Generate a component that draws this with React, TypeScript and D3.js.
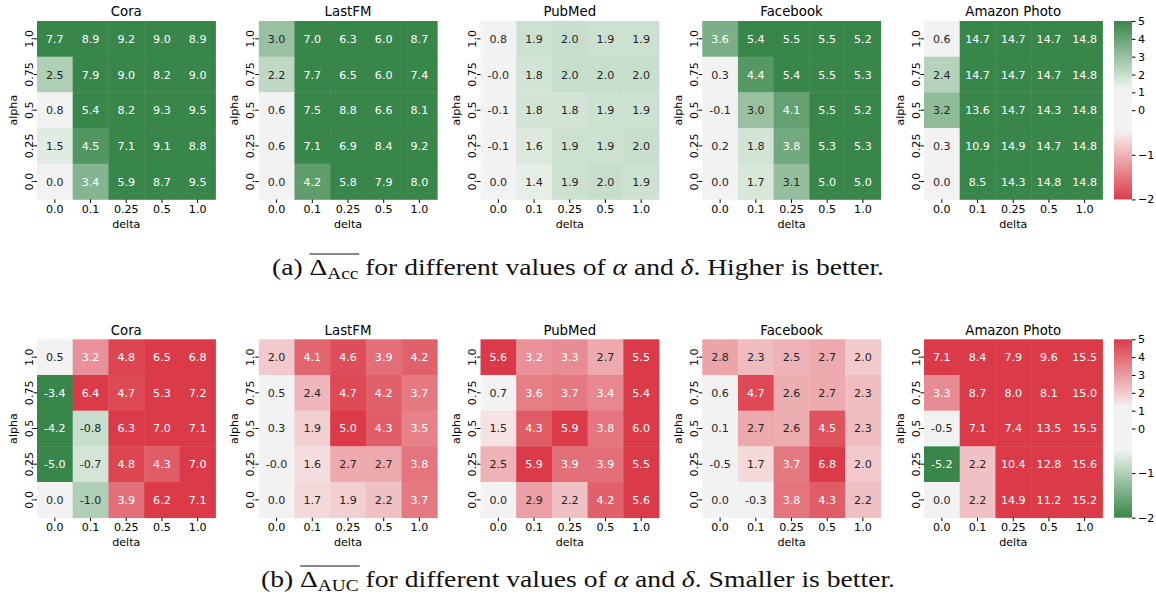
import React, { useRef, useEffect } from "react";
import * as d3 from "d3";

const datasets = ["Cora", "LastFM", "PubMed", "Facebook", "Amazon Photo"];
const deltas = ["0.0", "0.1", "0.25", "0.5", "1.0"];
// rows from top to bottom
const alphas = ["1.0", "0.75", "0.5", "0.25", "0.0"];
const colorbarTicks = [5, 4, 3, 2, 1, 0, -1, -2];

// (a) mean delta accuracy, rows alpha 1.0 -> 0.0, cols delta 0.0 -> 1.0
const accCora = [
  [7.7, 8.9, 9.2, 9.0, 8.9],
  [2.5, 7.9, 9.0, 8.2, 9.0],
  [0.8, 5.4, 8.2, 9.3, 9.5],
  [1.5, 4.5, 7.1, 9.1, 8.8],
  [0.0, 3.4, 5.9, 8.7, 9.5],
];
const accLastFM = [
  [3.0, 7.0, 6.3, 6.0, 8.7],
  [2.2, 7.7, 6.5, 6.0, 7.4],
  [0.6, 7.5, 8.8, 6.6, 8.1],
  [0.6, 7.1, 6.9, 8.4, 9.2],
  [0.0, 4.2, 5.8, 7.9, 8.0],
];
const accPubMed = [
  [0.8, 1.9, 2.0, 1.9, 1.9],
  [-0.0, 1.8, 2.0, 2.0, 2.0],
  [-0.1, 1.8, 1.8, 1.9, 1.9],
  [-0.1, 1.6, 1.9, 1.9, 2.0],
  [0.0, 1.4, 1.9, 2.0, 1.9],
];
const accFacebook = [
  [3.6, 5.4, 5.5, 5.5, 5.2],
  [0.3, 4.4, 5.4, 5.5, 5.3],
  [-0.1, 3.0, 4.1, 5.5, 5.2],
  [0.2, 1.8, 3.8, 5.3, 5.3],
  [0.0, 1.7, 3.1, 5.0, 5.0],
];
const accAmazon = [
  [0.6, 14.7, 14.7, 14.7, 14.8],
  [2.4, 14.7, 14.7, 14.7, 14.8],
  [3.2, 13.6, 14.7, 14.3, 14.8],
  [0.3, 10.9, 14.9, 14.7, 14.8],
  [0.0, 8.5, 14.3, 14.8, 14.8],
];

// (b) mean delta AUC
const aucCora = [
  [0.5, 3.2, 4.8, 6.5, 6.8],
  [-3.4, 6.4, 4.7, 5.3, 7.2],
  [-4.2, -0.8, 6.3, 7.0, 7.1],
  [-5.0, -0.7, 4.8, 4.3, 7.0],
  [0.0, -1.0, 3.9, 6.2, 7.1],
];
const aucLastFM = [
  [2.0, 4.1, 4.6, 3.9, 4.2],
  [0.5, 2.4, 4.7, 4.2, 3.7],
  [0.3, 1.9, 5.0, 4.3, 3.5],
  [-0.0, 1.6, 2.7, 2.7, 3.8],
  [0.0, 1.7, 1.9, 2.2, 3.7],
];
const aucPubMed = [
  [5.6, 3.2, 3.3, 2.7, 5.5],
  [0.7, 3.6, 3.7, 3.4, 5.4],
  [1.5, 4.3, 5.9, 3.8, 6.0],
  [2.5, 5.9, 3.9, 3.9, 5.5],
  [0.0, 2.9, 2.2, 4.2, 5.6],
];
const aucFacebook = [
  [2.8, 2.3, 2.5, 2.7, 2.0],
  [0.6, 4.7, 2.6, 2.7, 2.3],
  [0.1, 2.7, 2.6, 4.5, 2.3],
  [-0.5, 1.7, 3.7, 6.8, 2.0],
  [0.0, -0.3, 3.8, 4.3, 2.2],
];
const aucAmazon = [
  [7.1, 8.4, 7.9, 9.6, 15.5],
  [3.3, 8.7, 8.0, 8.1, 15.0],
  [-0.5, 7.1, 7.4, 13.5, 15.5],
  [-5.2, 2.2, 10.4, 12.8, 15.6],
  [0.0, 2.2, 14.9, 11.2, 15.2],
];

const accPanels = [accCora, accLastFM, accPubMed, accFacebook, accAmazon];
const aucPanels = [aucCora, aucLastFM, aucPubMed, aucFacebook, aucAmazon];

const FONT = "DejaVu Sans";
const FS = 11.1;
const TITLE_FS = 13.3;

// seaborn-like diverging palette (red - light gray - green) with a flat middle
const cmap = d3
  .scaleLinear<string>()
  .domain([0, 0.3725, 0.3765, 0.6235, 0.6275, 1])
  .range(["#db3b48", "#f7eded", "#f2f2f2", "#f2f2f2", "#ebf3ec", "#39864a"])
  .interpolate(d3.interpolateRgb)
  .clamp(true);

// two slope norm: vmin -2, center 0, vmax 5
const norm = d3.scaleLinear().domain([-2, 0, 5]).range([0, 0.5, 1]).clamp(true);

const fmt = (v: number) =>
  (v < 0 || Object.is(v, -0) ? "-" : "") + Math.abs(v).toFixed(1);

const luminance = (c: string) => {
  const { r, g, b } = d3.rgb(c);
  const lin = (x: number) => {
    x /= 255;
    return x <= 0.03928 ? x / 12.92 : Math.pow((x + 0.055) / 1.055, 2.4);
  };
  return 0.2126 * lin(r) + 0.7152 * lin(g) + 0.0722 * lin(b);
};

const App = () => {
  const ref = useRef<SVGSVGElement>(null);

  useEffect(() => {
    const svg = d3.select(ref.current);
    svg.selectAll("*").remove();

    const W = 178.5;
    const H = 178.4;
    const step = 221.75;
    const left0 = 37;

    const drawRow = (panels: number[][][], top: number, reversed: boolean, id: string) => {
      const color = (v: number) => (reversed ? cmap(1 - norm(v)) : cmap(norm(v)));

      panels.forEach((vals, p) => {
        const left = left0 + p * step;
        const x = d3.scaleBand().domain(deltas).range([left, left + W]);
        const y = d3.scaleBand().domain(alphas).range([top, top + H]);
        const g = svg.append("g");

        const cells = vals.flatMap((row, i) =>
          row.map((v, j) => ({ a: alphas[i], d: deltas[j], v }))
        );

        g.selectAll("rect.cell")
          .data(cells)
          .enter()
          .append("rect")
          .attr("x", (c) => x(c.d)!)
          .attr("y", (c) => y(c.a)!)
          .attr("width", x.bandwidth() + 0.4)
          .attr("height", y.bandwidth() + 0.4)
          .attr("fill", (c) => color(c.v));

        g.selectAll("text.ann")
          .data(cells)
          .enter()
          .append("text")
          .attr("x", (c) => x(c.d)! + x.bandwidth() / 2)
          .attr("y", (c) => y(c.a)! + y.bandwidth() / 2)
          .attr("dy", "0.36em")
          .attr("text-anchor", "middle")
          .attr("font-family", FONT)
          .attr("font-size", FS)
          .attr("fill", (c) => (luminance(color(c.v)) > 0.408 ? "#262626" : "#ffffff"))
          .text((c) => fmt(c.v));

        // x axis
        const xa = g
          .append("g")
          .attr("transform", `translate(0,${top + H})`)
          .call(d3.axisBottom(x).tickSize(3.5).tickPadding(2));
        xa.select(".domain").remove();
        xa.selectAll("text").attr("font-family", FONT).attr("font-size", FS).attr("fill", "#000");

        // y axis with rotated labels
        const ya = g
          .append("g")
          .attr("transform", `translate(${left},0)`)
          .call(d3.axisLeft(y).tickSize(3.5));
        ya.select(".domain").remove();
        ya.selectAll("text")
          .attr("x", 0)
          .attr("y", 0)
          .attr("dy", "0.36em")
          .attr("text-anchor", "middle")
          .attr("transform", "translate(-8.5,0) rotate(-90)")
          .attr("font-family", FONT)
          .attr("font-size", FS)
          .attr("fill", "#000");

        g.append("text")
          .attr("x", left + W / 2)
          .attr("y", top - 9.5)
          .attr("dy", "0.36em")
          .attr("text-anchor", "middle")
          .attr("font-family", FONT)
          .attr("font-size", TITLE_FS)
          .attr("fill", "#000")
          .text(datasets[p]);

        g.append("text")
          .attr("x", left + W / 2)
          .attr("y", top + H + 24.8)
          .attr("dy", "0.36em")
          .attr("text-anchor", "middle")
          .attr("font-family", FONT)
          .attr("font-size", FS)
          .attr("fill", "#000")
          .text("delta");

        g.append("text")
          .attr("transform", `translate(${left - 24.5},${top + H / 2}) rotate(-90)`)
          .attr("dy", "0.36em")
          .attr("text-anchor", "middle")
          .attr("font-family", FONT)
          .attr("font-size", FS)
          .attr("fill", "#000")
          .text("alpha");
      });

      // colorbar
      const cbx = 1114;
      const cbw = 18;
      const grad = svg
        .append("defs")
        .append("linearGradient")
        .attr("id", id)
        .attr("x1", 0)
        .attr("y1", 1)
        .attr("x2", 0)
        .attr("y2", 0);
      const stops = cmap.domain().map((d) => (reversed ? { o: 1 - d, c: cmap(d) } : { o: d, c: cmap(d) }));
      stops.sort((a, b) => a.o - b.o);
      grad
        .selectAll("stop")
        .data(stops)
        .enter()
        .append("stop")
        .attr("offset", (s) => s.o)
        .attr("stop-color", (s) => s.c);
      svg
        .append("rect")
        .attr("x", cbx)
        .attr("y", top)
        .attr("width", cbw)
        .attr("height", H)
        .attr("fill", `url(#${id})`);
      const cbScale = d3.scaleLinear().domain([-2, 0, 5]).range([top + H, top + H / 2, top]);
      const ca = svg
        .append("g")
        .attr("transform", `translate(${cbx + cbw},0)`)
        .call(
          d3
            .axisRight(cbScale)
            .tickValues(colorbarTicks)
            .tickSize(3.5)
            .tickPadding(2.5)
            .tickFormat((d) => ((d as number) < 0 ? "\u2212" + Math.abs(d as number) : String(d)))
        );
      ca.select(".domain").remove();
      ca.selectAll("text").attr("font-family", FONT).attr("font-size", FS).attr("fill", "#000");
    };

    drawRow(accPanels, 21, false, "cbAcc");
    drawRow(aucPanels, 339.3, true, "cbAuc");

    // captions, stretched to the width of the original LaTeX text
    const drawCaption = (label: string, sub: string, tail: string, cy: number, width: number) => {
      const fs = 23;
      const t = svg
        .append("text")
        .attr("x", 578 - width / 2)
        .attr("y", cy)
        .attr("font-family", "Liberation Serif")
        .attr("font-size", fs)
        .attr("fill", "#111")
        .attr("textLength", width)
        .attr("lengthAdjust", "spacingAndGlyphs");
      t.append("tspan").text(label + " \u0394");
      t.append("tspan").attr("dy", fs * 0.16).attr("font-size", "0.7em").text(sub);
      t.append("tspan").attr("dy", -fs * 0.16).text(" for different values of ");
      t.append("tspan").attr("font-style", "italic").text("\u03b1");
      t.append("tspan").text(" and ");
      t.append("tspan").attr("font-style", "italic").text("\u03b4");
      t.append("tspan").text(". " + tail);
      const node = t.node() as SVGTextElement;
      const i0 = label.length + 1;
      const x1 = node.getStartPositionOfChar(i0).x;
      const x2 = node.getEndPositionOfChar(i0 + sub.length).x;
      svg
        .append("line")
        .attr("x1", x1)
        .attr("x2", x2 + 1)
        .attr("y1", cy - 21)
        .attr("y2", cy - 21)
        .attr("stroke", "#111")
        .attr("stroke-width", 1);
    };

    drawCaption("(a)", "Acc", "Higher is better.", 275, 612);
    drawCaption("(b)", "AUC", "Smaller is better.", 587, 634);
  }, []);

  return (
    <svg
      ref={ref}
      width={1156}
      height={598}
      style={{ position: "absolute", left: 0, top: 0, background: "#fff" }}
    />
  );
};

export default App;
